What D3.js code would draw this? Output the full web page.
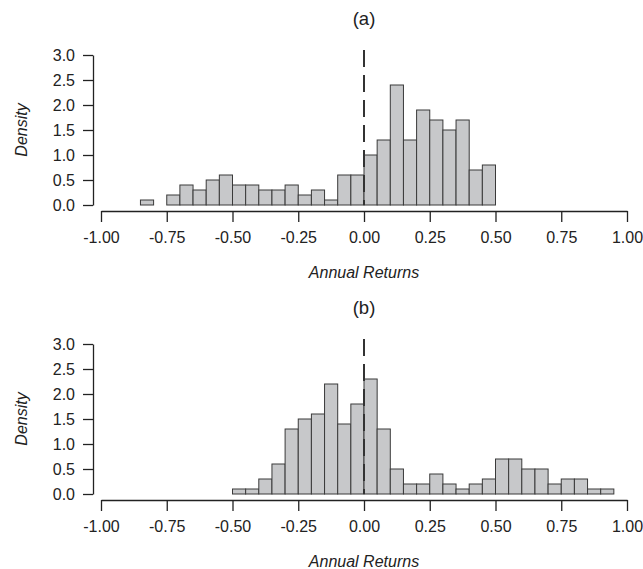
<!DOCTYPE html>
<html>
<head>
<meta charset="utf-8">
<script src="https://cdn.jsdelivr.net/npm/d3@7"></script>
<style>
  body { margin: 0; background: #fff; }
  svg text { font-family: "Liberation Sans", Arial, Helvetica, sans-serif; fill: #222; }
</style>
</head>
<body>
<div id="chart"></div>
<script>
// histogram bins, width 0.05, density values
const binWidth = 0.05;
const startA = -0.85;
const densityA = [0.1, 0, 0.2, 0.4, 0.3, 0.5, 0.6, 0.4, 0.4, 0.3, 0.3, 0.4, 0.2, 0.3, 0.1,
                  0.6, 0.6, 1.0, 1.3, 2.4, 1.3, 1.9, 1.7, 1.5, 1.7, 0.7, 0.8];
const startB = -0.50;
const densityB = [0.1, 0.1, 0.3, 0.6, 1.3, 1.5, 1.6, 2.2, 1.4, 1.8, 2.3, 1.3, 0.5, 0.2, 0.2,
                  0.4, 0.2, 0.1, 0.2, 0.3, 0.7, 0.7, 0.5, 0.5, 0.2, 0.3, 0.3, 0.1, 0.1];
const xTicks = [-1, -0.75, -0.5, -0.25, 0, 0.25, 0.5, 0.75, 1];
const yTicks = [0, 0.5, 1, 1.5, 2, 2.5, 3];
const panelTitles = ["(a)", "(b)"];

const width = 643, height = 569;
const svg = d3.select("#chart").append("svg")
    .attr("width", width)
    .attr("height", height);

const x = d3.scaleLinear().domain([-1, 1]).range([101, 627]);

function toBins(start, values) {
    return values.map((v, i) => ({
        x0: +(start + i * binWidth).toFixed(2),
        x1: +(start + (i + 1) * binWidth).toFixed(2),
        density: v
    }));
}

function drawPanel(offset, title, bins) {
    const g = svg.append("g").attr("transform", `translate(0, ${offset})`);
    const y = d3.scaleLinear().domain([0, 3]).range([205, 55]);

    g.append("text")
        .attr("x", x(0))
        .attr("y", 25)
        .attr("text-anchor", "middle")
        .style("font-size", "18.5px")
        .text(title);

    // bars
    g.selectAll("rect.bar")
        .data(bins.filter(d => d.density > 0))
        .join("rect")
        .attr("class", "bar")
        .attr("x", d => x(d.x0))
        .attr("y", d => y(d.density))
        .attr("width", d => x(d.x1) - x(d.x0))
        .attr("height", d => y(0) - y(d.density))
        .attr("fill", "#c7c8ca")
        .attr("stroke", "#3a3a3a")
        .attr("stroke-width", 1);

    // dashed line at zero
    g.append("line")
        .attr("x1", x(0)).attr("x2", x(0))
        .attr("y1", y(3.1)).attr("y2", y(0))
        .attr("stroke", "#333")
        .attr("stroke-width", 2)
        .attr("stroke-dasharray", "17,8");

    // y axis
    const yAxis = g.append("g")
        .attr("transform", "translate(93,0)")
        .call(d3.axisLeft(y).tickValues(yTicks)
            .tickFormat(d => d.toFixed(1))
            .tickSize(10).tickSizeOuter(0).tickPadding(8));
    yAxis.selectAll("text").style("font-size", "16px");

    // x axis
    const xAxis = g.append("g")
        .attr("transform", "translate(0,211)")
        .call(d3.axisBottom(x).tickValues(xTicks)
            .tickFormat(d => d.toFixed(2))
            .tickSize(11).tickSizeOuter(0).tickPadding(10));
    xAxis.selectAll("text").style("font-size", "16px");

    [yAxis, xAxis].forEach(a => {
        a.select(".domain").attr("stroke", "#222").attr("stroke-width", 1.3);
        a.selectAll(".tick line").attr("stroke", "#222").attr("stroke-width", 1.3);
    });

    g.append("text")
        .attr("x", x(0))
        .attr("y", 278)
        .attr("text-anchor", "middle")
        .style("font-size", "16px")
        .style("font-style", "italic")
        .text("Annual Returns");

    g.append("text")
        .attr("transform", `translate(27, ${y(1.5)}) rotate(-90)`)
        .attr("text-anchor", "middle")
        .style("font-size", "16px")
        .style("font-style", "italic")
        .text("Density");
}

drawPanel(0, panelTitles[0], toBins(startA, densityA));
drawPanel(289, panelTitles[1], toBins(startB, densityB));
</script>
</body>
</html>
